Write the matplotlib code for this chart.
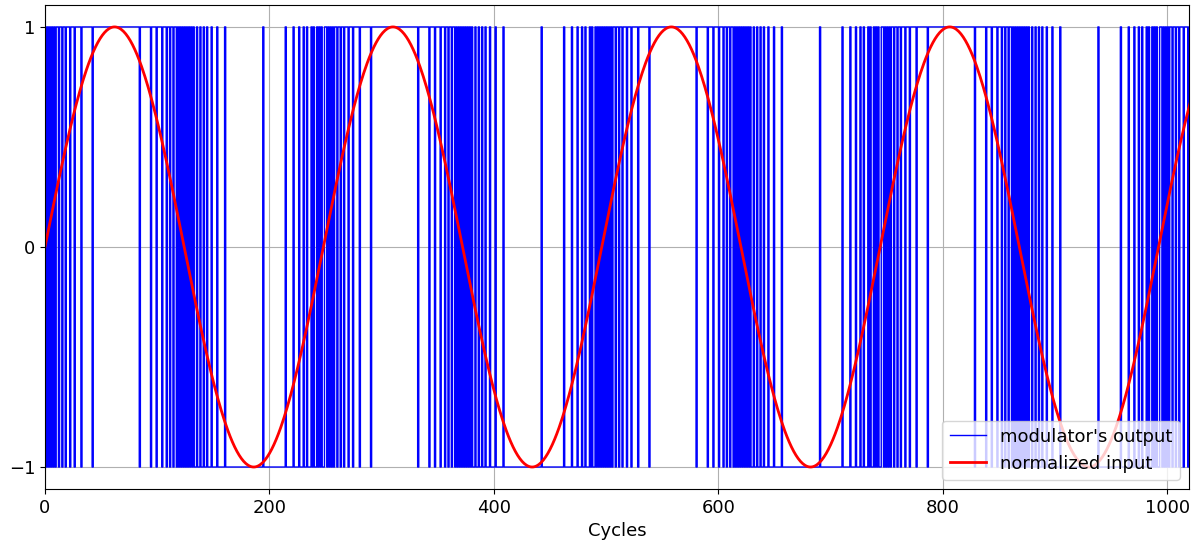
import numpy as np
import matplotlib
matplotlib.use("Agg")
import matplotlib.pyplot as plt

# input signal settings
n_cycles = 1024
period = 248          # cycles per sine period
amplitude = 1.0

cycles = np.arange(n_cycles)
x_in = amplitude * np.sin(2 * np.pi * cycles / period)

# first order delta-sigma modulator (quantize integrator state, then update)
y_out = np.zeros(n_cycles)
acc = 0.0
for i in range(n_cycles):
    y_out[i] = 1.0 if acc >= 0 else -1.0
    acc += x_in[i] - y_out[i]

plt.rcParams['font.size'] = 13

fig = plt.figure(figsize=(11.96, 5.47), dpi=100)
ax = fig.add_axes([0.0376, 0.106, 0.9564, 0.885])
ax.step(cycles, y_out, where="post", color="blue", linewidth=1.0,
        label="modulator's output")
ax.plot(cycles, x_in, color="red", linewidth=2.0, label="normalized input")
ax.set_xlim(0, 1019)
ax.set_yticks([-1, 0, 1])
ax.set_xlabel("Cycles")
ax.grid(True)
ax.legend(loc="lower right", fontsize=13)
fig.savefig("out.png", dpi=100)
